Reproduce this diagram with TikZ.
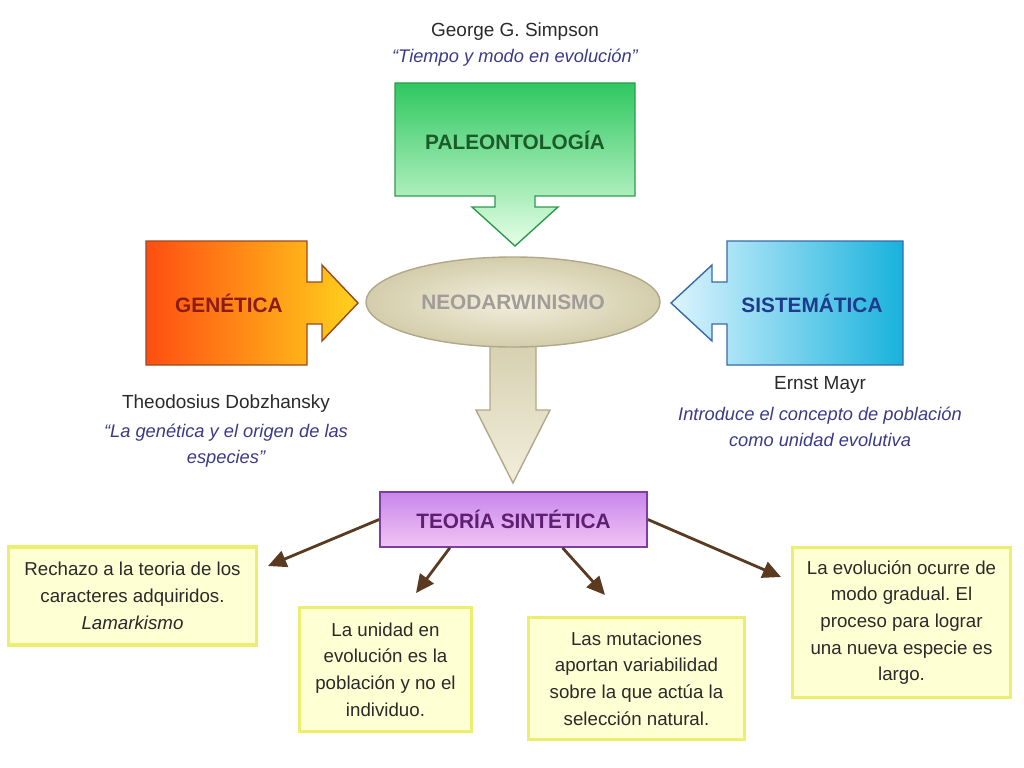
\documentclass[tikz,border=0pt]{standalone}
\usepackage{fontspec}
\setmainfont{Liberation Sans}
\usepackage{tikz}
\usetikzlibrary{arrows.meta,positioning,shapes.geometric}
\definecolor{paleotop}{HTML}{2FC860}
\definecolor{paleobottom}{HTML}{E6FFE6}
\definecolor{paleoborder}{HTML}{2E9A50}
\definecolor{paleotext}{HTML}{1C5A2A}
\definecolor{geneleft}{HTML}{FF4E12}
\definecolor{generight}{HTML}{FFD21C}
\definecolor{geneborder}{HTML}{9A4A20}
\definecolor{genetext}{HTML}{8A1C14}
\definecolor{sisleft}{HTML}{DDF4FF}
\definecolor{sisright}{HTML}{18B2DC}
\definecolor{sisborder}{HTML}{3A6AA8}
\definecolor{sistext}{HTML}{1F3A8C}
\definecolor{neoinner}{HTML}{F2EEDC}
\definecolor{neoouter}{HTML}{D4CDAC}
\definecolor{neoborder}{HTML}{B0A888}
\definecolor{neotext}{HTML}{A09C98}
\definecolor{teotop}{HTML}{C886EC}
\definecolor{teobottom}{HTML}{F2C4F4}
\definecolor{teoborder}{HTML}{7E3E9E}
\definecolor{teotext}{HTML}{5E1E72}
\definecolor{notefill}{HTML}{FFFFD4}
\definecolor{noteborder}{HTML}{EEEE6E}
\definecolor{linkbrown}{HTML}{5A3A20}
\definecolor{bodytext}{HTML}{2A2A2A}
\definecolor{quoteblue}{HTML}{3A3A8A}
\tikzset{
    headtext/.style={font=\fontsize{14.8}{17}\selectfont\bfseries},
    authortext/.style={font=\fontsize{13.5}{16}\selectfont, text=bodytext},
    quotetext/.style={font=\fontsize{13}{18.5}\selectfont\itshape, text=quoteblue, align=center},
    notebox/.style={draw=noteborder, line width=2.5pt, fill=notefill, align=center,
        font=\fontsize{13.3}{19}\selectfont, text=bodytext},
    linkarrow/.style={-{Triangle[length=13pt,width=12pt]}, line width=2pt, draw=linkbrown, fill=linkbrown}
}
\frenchspacing
\begin{document}
\begin{tikzpicture}[x=0.025cm, y=-0.025cm]
    \useasboundingbox (0,0) rectangle (1024,768);

    % Paleontologia (top)
    \node[authortext] (simpson) at (515,32) {George G. Simpson};
    \node[quotetext] (simpsonq) at (515,58) {“Tiempo y modo en evolución”};
    \draw[paleoborder, line width=1pt, top color=paleotop, bottom color=paleobottom]
        (395,83) -- (635,83) -- (635,196) -- (535,196) -- (535,207) -- (558,207) -- (515,246)
        -- (472,207) -- (495,207) -- (495,196) -- (395,196) -- cycle;
    \node[headtext, text=paleotext] (paleo) at (515,140) {PALEONTOLOGÍA};

    % Genetica (left)
    \draw[geneborder, line width=1pt, left color=geneleft, right color=generight]
        (146,241) -- (307,241) -- (307,282) -- (322,282) -- (322,265) -- (358,303) -- (322,341)
        -- (322,324) -- (307,324) -- (307,365) -- (146,365) -- cycle;
    \node[headtext, text=genetext] (gene) at (229,303) {GENÉTICA};
    \node[authortext] (dobz) at (226,404) {Theodosius Dobzhansky};
    \node[quotetext] (dobzq) at (226,446) {“La genética y el origen de las\\especies”};

    % Sistematica (right)
    \draw[sisborder, line width=1pt, left color=sisleft, right color=sisright]
        (903,241) -- (727,241) -- (727,282) -- (712,282) -- (712,265) -- (671,303) -- (712,341)
        -- (712,324) -- (727,324) -- (727,365) -- (903,365) -- cycle;
    \node[headtext, text=sistext] (siste) at (812,303) {SISTEMÁTICA};
    \node[authortext] (mayr) at (820,385) {Ernst Mayr};
    \node[quotetext] (mayrq) at (820,426.5) {Introduce el concepto de población\\como unidad evolutiva};

    % Neodarwinismo and the way down
    \draw[neoborder, line width=1pt, top color=neoouter, bottom color=neoinner]
        (490,330) -- (536,330) -- (536,410) -- (550,410) -- (513,483) -- (476,410) -- (490,410) -- cycle;
    \node[ellipse, draw=neoborder, line width=1pt, inner color=neoinner, outer color=neoouter,
        minimum width=7.35cm, minimum height=2.25cm, headtext, text=neotext] (neo) at (513,302) {NEODARWINISMO};

    % Teoria sintetica
    \node[draw=teoborder, line width=1.2pt, top color=teotop, bottom color=teobottom,
        minimum width=6.675cm, minimum height=1.375cm, headtext, text=teotext] (teoria) at (513.5,519.5) {TEORÍA SINTÉTICA};

    % Notes
    \node[notebox, minimum width=6.2cm, minimum height=2.45cm] (rechazo) at (132.5,596)
        {Rechazo a la teoria de los\\caracteres adquiridos.\\\textit{Lamarkismo}};
    \node[notebox, minimum width=4.3cm, minimum height=3.1cm] (unidad) at (385.5,669.5)
        {La unidad en\\evolución es la\\población y no el\\individuo.};
    \node[notebox, minimum width=5.4cm, minimum height=3.05cm] (mutacion) at (636.5,678.5)
        {Las mutaciones\\aportan variabilidad\\sobre la que actúa la\\selección natural.};
    \node[notebox, minimum width=5.45cm, minimum height=3.75cm] (gradual) at (901.5,622.5)
        {La evolución ocurre de\\modo gradual. El\\proceso para lograr\\una nueva especie es\\largo.};

    % Links
    \coordinate (tipA) at (268,566);
    \coordinate (tipB) at (416,593);
    \coordinate (tipC) at (605,595);
    \coordinate (tipD) at (781,577);
    \foreach \s/\t in {teoria.west/tipA, teoria.204/tipB, teoria.330/tipC, teoria.east/tipD} {
        \draw[linkarrow] (\s) -- (\t);
    }
\end{tikzpicture}
\end{document}
